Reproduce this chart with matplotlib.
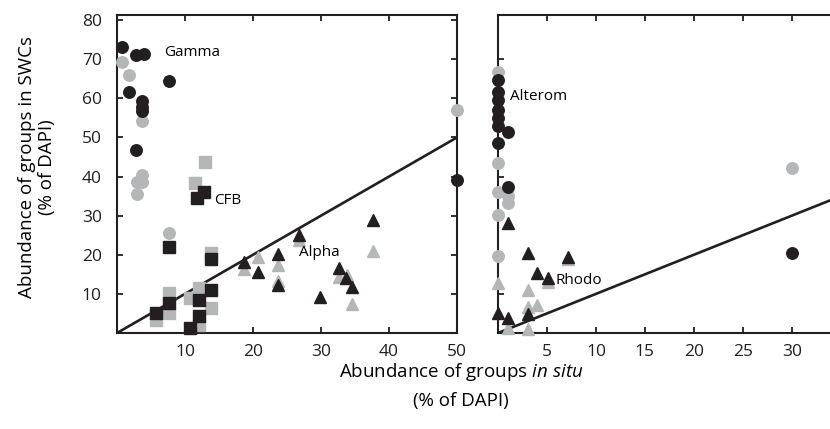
import numpy as np
import matplotlib.pyplot as plt

plt.rcParams['font.family'] = ['Open Sans', 'DejaVu Sans']
plt.rcParams['mathtext.fontset'] = 'custom'
plt.rcParams['mathtext.rm'] = 'Open Sans'
plt.rcParams['mathtext.it'] = 'Open Sans:italic'

# --- data: abundance in situ (x) vs in SWCs (y), % of DAPI ---
gamma_gray_x = [0.8, 1.8, 3.7, 3.7, 3.7, 2.9, 2.9, 7.7, 50]
gamma_gray_y = [69.2, 66.0, 54.3, 40.4, 38.7, 38.7, 35.5, 25.5, 57.0]
gamma_black_x = [0.8, 2.8, 3.9, 7.7, 1.8, 3.7, 3.7, 3.7, 2.8, 50]
gamma_black_y = [73.0, 71.1, 71.3, 64.4, 61.7, 59.4, 57.9, 56.7, 46.8, 39.1]

cfb_gray_x = [13.0, 11.5, 13.8, 7.7, 7.7, 5.7, 12.0, 10.8, 13.8, 12.0]
cfb_gray_y = [43.7, 38.3, 20.5, 10.1, 5.0, 3.3, 11.4, 8.9, 6.3, 2.0]
cfb_black_x = [12.8, 11.8, 7.7, 13.8, 7.7, 5.7, 12.0, 13.8, 12.0, 10.8]
cfb_black_y = [36.1, 34.4, 22.1, 18.9, 7.6, 5.2, 8.4, 11.0, 4.3, 1.2]

alpha_gray_x = [18.7, 20.7, 23.7, 23.7, 26.8, 32.7, 33.8, 34.6, 37.7]
alpha_gray_y = [16.3, 19.4, 17.4, 13.4, 23.8, 14.2, 14.8, 7.4, 21.0]
alpha_black_x = [18.7, 20.7, 23.7, 23.7, 26.8, 29.8, 32.7, 33.7, 34.6, 37.7]
alpha_black_y = [18.2, 15.7, 20.2, 12.3, 25.1, 9.3, 16.5, 14.0, 11.8, 28.9]

alterom_gray_x = [0, 0, 0, 1.05, 1.05, 0, 0, 30]
alterom_gray_y = [66.8, 43.4, 36.1, 34.9, 33.3, 30.2, 19.7, 42.1]
alterom_black_x = [0, 0, 0, 0, 0, 0, 1.05, 0, 1.05, 30]
alterom_black_y = [64.7, 61.7, 59.6, 57.0, 54.9, 52.8, 51.5, 48.5, 37.4, 20.5]

rhodo_gray_x = [0, 3.1, 3.1, 4.0, 1.05, 3.1, 5.1, 7.1]
rhodo_gray_y = [12.9, 11.0, 6.7, 7.2, 1.2, 0.9, 13.0, 19.0]
rhodo_black_x = [1.05, 3.1, 7.1, 4.0, 5.1, 0, 1.05, 3.1]
rhodo_black_y = [28.2, 20.5, 19.4, 15.4, 14.0, 5.0, 3.9, 4.8]

gray = '#b5b6b8'
black = '#231f20'
ms = 8.3

fig = plt.figure(figsize=(8.3, 4.29), dpi=100)
ax1 = fig.add_axes([117/830, 1 - 333/429, 340/830, 318/429])
ax2 = fig.add_axes([498/830, 1 - 333/429, 333/830, 318/429])


def scatter(ax, x, y, marker, color, size=ms):
    ax.plot(x, y, ls='none', marker=marker, ms=size, color=color,
            mec=color, clip_on=False, zorder=3)


scatter(ax1, gamma_gray_x, gamma_gray_y, 'o', gray)
scatter(ax1, cfb_gray_x, cfb_gray_y, 's', gray)
scatter(ax1, alpha_gray_x, alpha_gray_y, '^', gray, 8.5)
scatter(ax1, gamma_black_x, gamma_black_y, 'o', black)
scatter(ax1, cfb_black_x, cfb_black_y, 's', black)
scatter(ax1, alpha_black_x, alpha_black_y, '^', black, 8.5)

scatter(ax2, alterom_gray_x, alterom_gray_y, 'o', gray)
scatter(ax2, rhodo_gray_x, rhodo_gray_y, '^', gray, 8.5)
scatter(ax2, alterom_black_x, alterom_black_y, 'o', black)
scatter(ax2, rhodo_black_x, rhodo_black_y, '^', black, 8.5)

ymax = 81.3
ax1.set_xlim(0, 50)
ax1.set_ylim(0, ymax)
ax2.set_xlim(0, 34)
ax2.set_ylim(0, ymax)

# 1:1 lines
ax1.plot([0, 50], [0, 50], color=black, lw=1.9, zorder=2)
ax2.plot([0, 34], [0, 34], color=black, lw=1.9, zorder=2)

for ax in (ax1, ax2):
    for s in ax.spines.values():
        s.set_linewidth(1.5)
        s.set_color(black)
    ax.tick_params(direction='in', length=4, width=1.3, colors=black,
                   labelsize=12.5, top=True, right=True)
    ax.tick_params(axis='x', pad=8)
    ax.tick_params(axis='y', pad=11)

ax1.set_xticks([10, 20, 30, 40, 50])
ax1.set_yticks([10, 20, 30, 40, 50, 60, 70, 80])
ax2.set_xticks([5, 10, 15, 20, 25, 30])
ax2.set_yticks([10, 40, 70])
ax2.tick_params(axis='y', labelleft=False, right=False)
ax2.spines['right'].set_visible(False)

ax1.text(7.0, 71.6, 'Gamma', fontsize=11, va='center', ha='left')
ax1.text(14.3, 34.0, 'CFB', fontsize=11, va='center', ha='left')
ax1.text(26.8, 20.5, 'Alpha', fontsize=11, va='center', ha='left')
ax2.text(1.2, 60.4, 'Alterom', fontsize=11, va='center', ha='left')
ax2.text(5.9, 13.3, 'Rhodo', fontsize=11, va='center', ha='left')

fig.text(461/830, 1 - 372/429, 'Abundance of groups $\\mathit{in\\ situ}$',
         fontsize=13.5, ha='center', va='center')
fig.text(461/830, 1 - 401/429, '(% of DAPI)', fontsize=13.5,
         ha='center', va='center')
fig.text(27/830, 1 - 167/429, 'Abundance of groups in SWCs', fontsize=13.5,
         rotation=90, ha='center', va='center')
fig.text(47/830, 1 - 167/429, '(% of DAPI)', fontsize=13.5,
         rotation=90, ha='center', va='center')

fig.savefig('out.png', dpi=100)
